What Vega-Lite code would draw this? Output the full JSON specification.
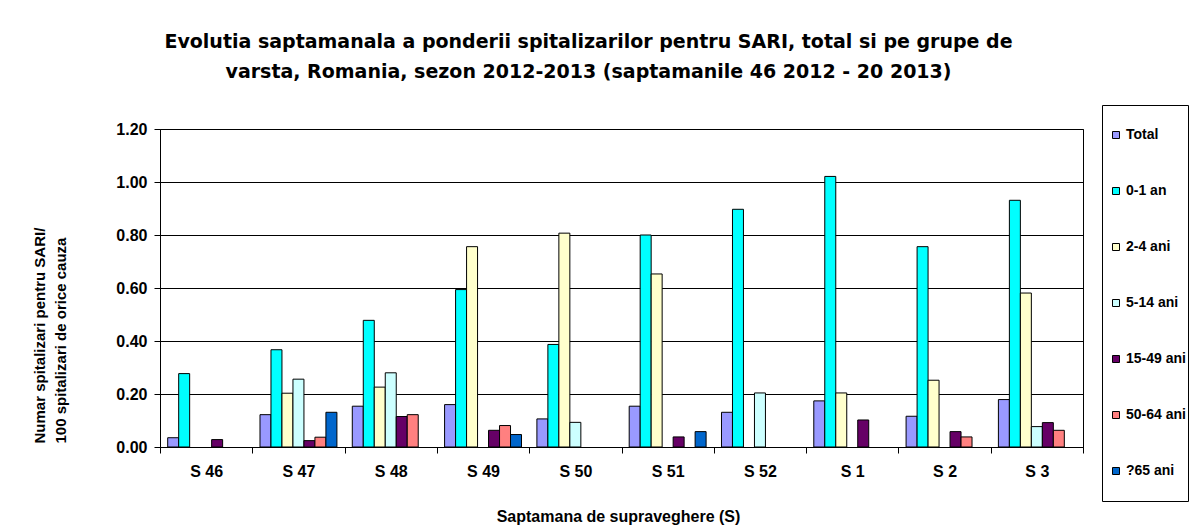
{
  "$schema": "https://vega.github.io/schema/vega-lite/v6.json",
  "width": 923,
  "height": 318,
  "autosize": {"type": "none"},
  "padding": {"left": 160, "top": 129, "right": 120, "bottom": 84},
  "background": "white",
  "title": {
    "text": ["Evolutia saptamanala a ponderii spitalizarilor pentru SARI, total si pe grupe de", "varsta,  Romania, sezon 2012-2013 (saptamanile 46 2012 - 20 2013)"],
    "font": "DejaVu Sans",
    "fontSize": 19,
    "fontWeight": "bold",
    "color": "black",
    "lineHeight": 30,
    "anchor": "middle",
    "frame": "group",
    "dx": -33,
    "offset": 23
  },
  "data": {
    "values": [
      {"week": "S 46", "group": "Total", "value": 0.035},
      {"week": "S 46", "group": "0-1  an", "value": 0.277},
      {"week": "S 46", "group": "15-49 ani", "value": 0.028},
      {"week": "S 47", "group": "Total", "value": 0.122},
      {"week": "S 47", "group": "0-1  an", "value": 0.367},
      {"week": "S 47", "group": "2-4 ani", "value": 0.203},
      {"week": "S 47", "group": "5-14 ani", "value": 0.256},
      {"week": "S 47", "group": "15-49 ani", "value": 0.024},
      {"week": "S 47", "group": "50-64 ani", "value": 0.037},
      {"week": "S 47", "group": "?65 ani", "value": 0.131},
      {"week": "S 48", "group": "Total", "value": 0.154},
      {"week": "S 48", "group": "0-1  an", "value": 0.478},
      {"week": "S 48", "group": "2-4 ani", "value": 0.226},
      {"week": "S 48", "group": "5-14 ani", "value": 0.28},
      {"week": "S 48", "group": "15-49 ani", "value": 0.115},
      {"week": "S 48", "group": "50-64 ani", "value": 0.122},
      {"week": "S 49", "group": "Total", "value": 0.16},
      {"week": "S 49", "group": "0-1  an", "value": 0.594},
      {"week": "S 49", "group": "2-4 ani", "value": 0.756},
      {"week": "S 49", "group": "15-49 ani", "value": 0.063},
      {"week": "S 49", "group": "50-64 ani", "value": 0.081},
      {"week": "S 49", "group": "?65 ani", "value": 0.047},
      {"week": "S 50", "group": "Total", "value": 0.106},
      {"week": "S 50", "group": "0-1  an", "value": 0.387},
      {"week": "S 50", "group": "2-4 ani", "value": 0.807},
      {"week": "S 50", "group": "5-14 ani", "value": 0.093},
      {"week": "S 51", "group": "Total", "value": 0.154},
      {"week": "S 51", "group": "0-1  an", "value": 0.8},
      {"week": "S 51", "group": "2-4 ani", "value": 0.653},
      {"week": "S 51", "group": "15-49 ani", "value": 0.038},
      {"week": "S 51", "group": "?65 ani", "value": 0.058},
      {"week": "S 52", "group": "Total", "value": 0.131},
      {"week": "S 52", "group": "0-1  an", "value": 0.897},
      {"week": "S 52", "group": "5-14 ani", "value": 0.204},
      {"week": "S 1", "group": "Total", "value": 0.174},
      {"week": "S 1", "group": "0-1  an", "value": 1.021},
      {"week": "S 1", "group": "2-4 ani", "value": 0.204},
      {"week": "S 1", "group": "15-49 ani", "value": 0.102},
      {"week": "S 2", "group": "Total", "value": 0.116},
      {"week": "S 2", "group": "0-1  an", "value": 0.756},
      {"week": "S 2", "group": "2-4 ani", "value": 0.252},
      {"week": "S 2", "group": "15-49 ani", "value": 0.058},
      {"week": "S 2", "group": "50-64 ani", "value": 0.038},
      {"week": "S 3", "group": "Total", "value": 0.179},
      {"week": "S 3", "group": "0-1  an", "value": 0.931},
      {"week": "S 3", "group": "2-4 ani", "value": 0.581},
      {"week": "S 3", "group": "5-14 ani", "value": 0.077},
      {"week": "S 3", "group": "15-49 ani", "value": 0.092},
      {"week": "S 3", "group": "50-64 ani", "value": 0.063}
    ]
  },
  "mark": {"type": "bar", "stroke": "black", "strokeWidth": 1},
  "encoding": {
    "x": {
      "field": "week",
      "type": "nominal",
      "sort": ["S 46", "S 47", "S 48", "S 49", "S 50", "S 51", "S 52", "S 1", "S 2", "S 3"],
      "scale": {"paddingInner": 0, "paddingOuter": 0},
      "axis": {
        "title": "Saptamana de supraveghere (S)",
        "titleFont": "Liberation Sans",
        "titleFontSize": 16,
        "titleFontWeight": "bold",
        "titleColor": "black",
        "titleBaseline": "middle",
        "titleY": 69,
        "titleX": 458,
        "labelAngle": 0,
        "labelFont": "Liberation Sans",
        "labelFontSize": 16,
        "labelFontWeight": "bold",
        "labelColor": "black",
        "labelPadding": 10,
        "tickBand": "extent",
        "tickSize": 6,
        "tickColor": "black",
        "domainColor": "black",
        "grid": false
      }
    },
    "xOffset": {
      "field": "group",
      "type": "nominal",
      "scale": {
        "domain": ["Total", "0-1  an", "2-4 ani", "5-14 ani", "15-49 ani", "50-64 ani", "?65 ani"],
        "paddingInner": 0,
        "paddingOuter": 0.7
      }
    },
    "y": {
      "field": "value",
      "type": "quantitative",
      "scale": {"domain": [0, 1.2]},
      "axis": {
        "title": ["Numar spitalizari pentru SARI/", "100 spitalizari de orice cauza"],
        "titleFont": "Liberation Sans",
        "titleFontSize": 15,
        "titleFontWeight": "bold",
        "titleColor": "black",
        "titleAngle": -90,
        "titleAlign": "left",
        "titleBaseline": "middle",
        "titleLineHeight": 21,
        "titleX": -121,
        "titleY": 314,
        "values": [0, 0.2, 0.4, 0.6, 0.8, 1.0, 1.2],
        "format": ".2f",
        "labelFont": "Liberation Sans",
        "labelFontSize": 16,
        "labelFontWeight": "bold",
        "labelColor": "black",
        "labelPadding": 7,
        "tickSize": 6,
        "tickColor": "black",
        "domainColor": "black",
        "gridColor": "black",
        "gridOpacity": 1,
        "gridWidth": 1
      }
    },
    "color": {
      "field": "group",
      "type": "nominal",
      "scale": {
        "domain": ["Total", "0-1  an", "2-4 ani", "5-14 ani", "15-49 ani", "50-64 ani", "?65 ani"],
        "range": ["#9999FF", "#00FFFF", "#FFFFCC", "#CCFFFF", "#660066", "#FF8080", "#0066CC"]
      },
      "legend": {
        "title": null,
        "orient": "none",
        "legendX": 942,
        "legendY": -24,
        "direction": "vertical",
        "padding": 2,
        "strokeColor": "black",
        "fillColor": "white",
        "symbolType": "square",
        "symbolSize": 49,
        "symbolStrokeColor": "black",
        "symbolStrokeWidth": 1,
        "symbolOffset": 5,
        "clipHeight": 56,
        "rowPadding": 0,
        "labelOffset": 3,
        "labelFont": "Liberation Sans",
        "labelFontSize": 14,
        "labelFontWeight": "bold",
        "labelColor": "black"
      }
    }
  },
  "config": {
    "view": {"stroke": "black", "strokeWidth": 1}
  }
}
